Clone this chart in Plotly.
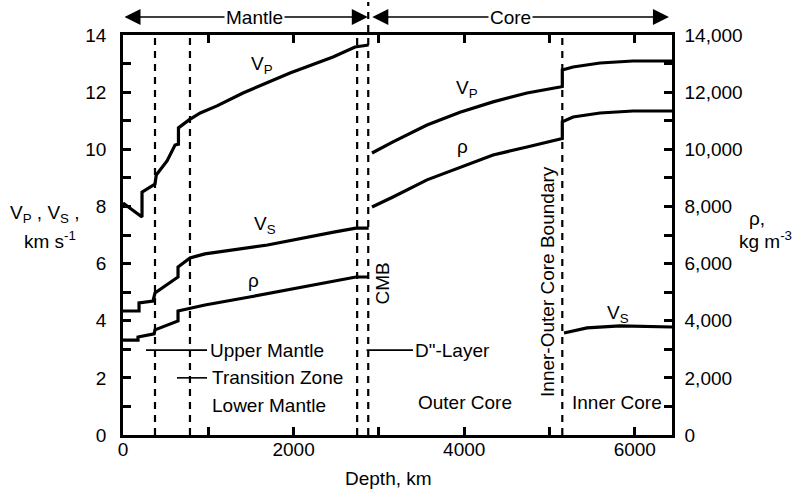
import plotly.graph_objects as go

# ---------------- data ----------------
# Mantle
depth_vp_mantle = [0, 223, 223, 375, 390, 518, 610, 650, 650, 774, 906, 1102, 1407, 1958, 2462, 2720, 2880]
vp_mantle = [8.12, 7.63, 8.5, 8.78, 9.1, 9.6, 10.15, 10.18, 10.75, 11.03, 11.27, 11.52, 11.97, 12.67, 13.23, 13.58, 13.65]

depth_vs_mantle = [0, 188, 188, 352, 375, 645, 645, 785, 961, 1694, 2470, 2730, 2880]
vs_mantle = [4.34, 4.34, 4.62, 4.69, 4.97, 5.53, 5.88, 6.2, 6.34, 6.65, 7.1, 7.24, 7.24]

depth_rho_mantle = [0, 176, 176, 365, 375, 645, 645, 785, 961, 1500, 2100, 2730, 2880]
rho_mantle = [3320, 3320, 3430, 3540, 3680, 3990, 4340, 4440, 4550, 4840, 5180, 5530, 5530]

# Core
depth_core = [2919, 3165, 3564, 3951, 4338, 4736, 5123, 5150,
              5150, 5276, 5592, 5979, 6436]
rho_core = [9870, 10260, 10850, 11300, 11660, 11970, 12180, 12200,
            12780, 12880, 13020, 13090, 13090]
vp_core = [7.98, 8.33, 8.93, 9.38, 9.8, 10.08, 10.36, 10.38,
           10.96, 11.13, 11.27, 11.34, 11.34]

depth_vs_inner = [5170, 5440, 5826, 6436]
vs_inner = [3.57, 3.75, 3.82, 3.78]

boundary_depths = [375, 785, 2745, 2875, 5150]

x_ticks = [0, 1000, 2000, 3000, 4000, 5000, 6000]
x_ticktext = ["0", "", "2000", "", "4000", "", "6000"]
y_ticks = list(range(0, 15))
y_ticktext = [str(v) if v % 2 == 0 else "" for v in y_ticks]
y2_ticks = [v * 1000 for v in range(0, 15)]
y2_ticktext = [(f"{v:,}" if v > 0 else "0") if (v // 1000) % 2 == 0 else "" for v in y2_ticks]

# ---------------- layout helpers ----------------
W, H = 794, 490
L, R, T, B = 123, 122, 35, 55
PW, PH = W - L - R, H - T - B


def px(xp):
    return (xp - L) / PW


def py(yp):
    return (H - B - yp) / PH


FONT = "Liberation Sans, Arial, Helvetica, sans-serif"
FS = 19
BLACK = "black"

fig = go.Figure()

line_style = dict(color=BLACK, width=3.2)

fig.add_trace(go.Scatter(
    x=depth_vp_mantle + [None] + depth_core,
    y=vp_mantle + [None] + vp_core,
    mode="lines", line=line_style, name="VP", connectgaps=False, yaxis="y"))
fig.add_trace(go.Scatter(
    x=depth_vs_mantle + [None] + depth_vs_inner,
    y=vs_mantle + [None] + vs_inner,
    mode="lines", line=line_style, name="VS", connectgaps=False, yaxis="y"))
fig.add_trace(go.Scatter(
    x=depth_rho_mantle + [None] + depth_core,
    y=rho_mantle + [None] + rho_core,
    mode="lines", line=line_style, name="rho", connectgaps=False, yaxis="y2"))

shapes = []
for i, d in enumerate(boundary_depths):
    shapes.append(dict(type="line", xref="x", yref="paper", x0=d, x1=d, y0=0,
                       y1=(py(2) if i == 3 else 1), line=dict(color=BLACK, width=2.2, dash="7px,6px")))

# region marker lines
thin = dict(color=BLACK, width=1.6)
shapes.append(dict(type="line", xref="x", yref="y", x0=270, x1=985, y0=2.97, y1=2.97, line=thin))
shapes.append(dict(type="line", xref="x", yref="y", x0=633, x1=985, y0=2.0, y1=2.0, line=thin))
shapes.append(dict(type="line", xref="x", yref="y", x0=2855, x1=3400, y0=2.97, y1=2.97, line=thin))

ann = []


def text(x, y, s, xref="x", yref="y", xanchor="center", yanchor="middle", angle=0, bg=None):
    d = dict(x=x, y=y, text=s, xref=xref, yref=yref, xanchor=xanchor, yanchor=yanchor,
             showarrow=False, textangle=angle, font=dict(family=FONT, size=FS, color=BLACK))
    if bg:
        d["bgcolor"] = bg
        d["borderpad"] = 1
    ann.append(d)


# top arrows
arrow_y = py(17)
for x0, x1 in [(0, 2870), (2905, 6400)]:
    ann.append(dict(x=x1, y=arrow_y, ax=x0, ay=0, xref="x", yref="paper", axref="x", ayref="pixel",
                    showarrow=True, arrowhead=2, startarrowhead=2, arrowside="end+start",
                    arrowsize=2.0, startarrowsize=2.0, arrowwidth=1.6, arrowcolor=BLACK, text=""))
text(1547, arrow_y, "Mantle", yref="paper", bg="white")
text(4537, arrow_y, "Core", yref="paper", bg="white")

# curve labels
text(1635, 12.95, "V<sub>P</sub>")
text(1660, 7.35, "V<sub>S</sub>")
text(1525, 5.4, "ρ")
text(4030, 12.1, "V<sub>P</sub>")
text(3985, 10.1, "ρ")
text(5800, 4.25, "V<sub>S</sub>")

# region labels
text(997, 2.97, "Upper Mantle", xanchor="left")
text(1020, 2.0, "Transition Zone", xanchor="left")
text(1020, 1.05, "Lower Mantle", xanchor="left")
text(3400, 2.97, "D\"-Layer", xanchor="left")
text(4010, 1.15, "Outer Core")
text(5790, 1.15, "Inner Core")
text(3048, 5.3, "CMB", angle=-90)
text(4970, 5.39, "Inner-Outer Core Boundary", angle=-90)

# axis titles
text(px(45), py(214), "V<sub>P</sub> , V<sub>S</sub> ,", xref="paper", yref="paper")
text(px(50), py(240), "km s<sup>-1</sup>", xref="paper", yref="paper")
text(px(757), py(218), "ρ,", xref="paper", yref="paper")
text(px(765), py(240), "kg m<sup>-3</sup>", xref="paper", yref="paper")
text(px(388), py(478), "Depth, km", xref="paper", yref="paper")

axis_common = dict(showgrid=False, zeroline=False, showline=True, linecolor=BLACK, linewidth=2.5,
                   ticks="inside", ticklen=8, tickwidth=2.5, tickcolor=BLACK,
                   tickfont=dict(family=FONT, size=FS, color=BLACK))

fig.update_layout(
    width=W, height=H, autosize=False,
    margin=dict(l=L, r=R, t=T, b=B, pad=0),
    paper_bgcolor="white", plot_bgcolor="white",
    showlegend=False,
    font=dict(family=FONT, size=FS, color=BLACK),
    xaxis=dict(range=[0, 6436], tickmode="array", tickvals=x_ticks, ticktext=x_ticktext,
               mirror="ticks", ticklabelstandoff=-5, **axis_common),
    yaxis=dict(range=[0, 14], tickmode="array", tickvals=y_ticks, ticktext=y_ticktext,
               ticklabelstandoff=10, **axis_common),
    yaxis2=dict(range=[0, 14000], overlaying="y", side="right", tickmode="array",
                tickvals=y2_ticks, ticktext=y2_ticktext, ticklabelstandoff=6, **axis_common),
    shapes=shapes,
    annotations=ann,
)

fig.write_html("out.html")
